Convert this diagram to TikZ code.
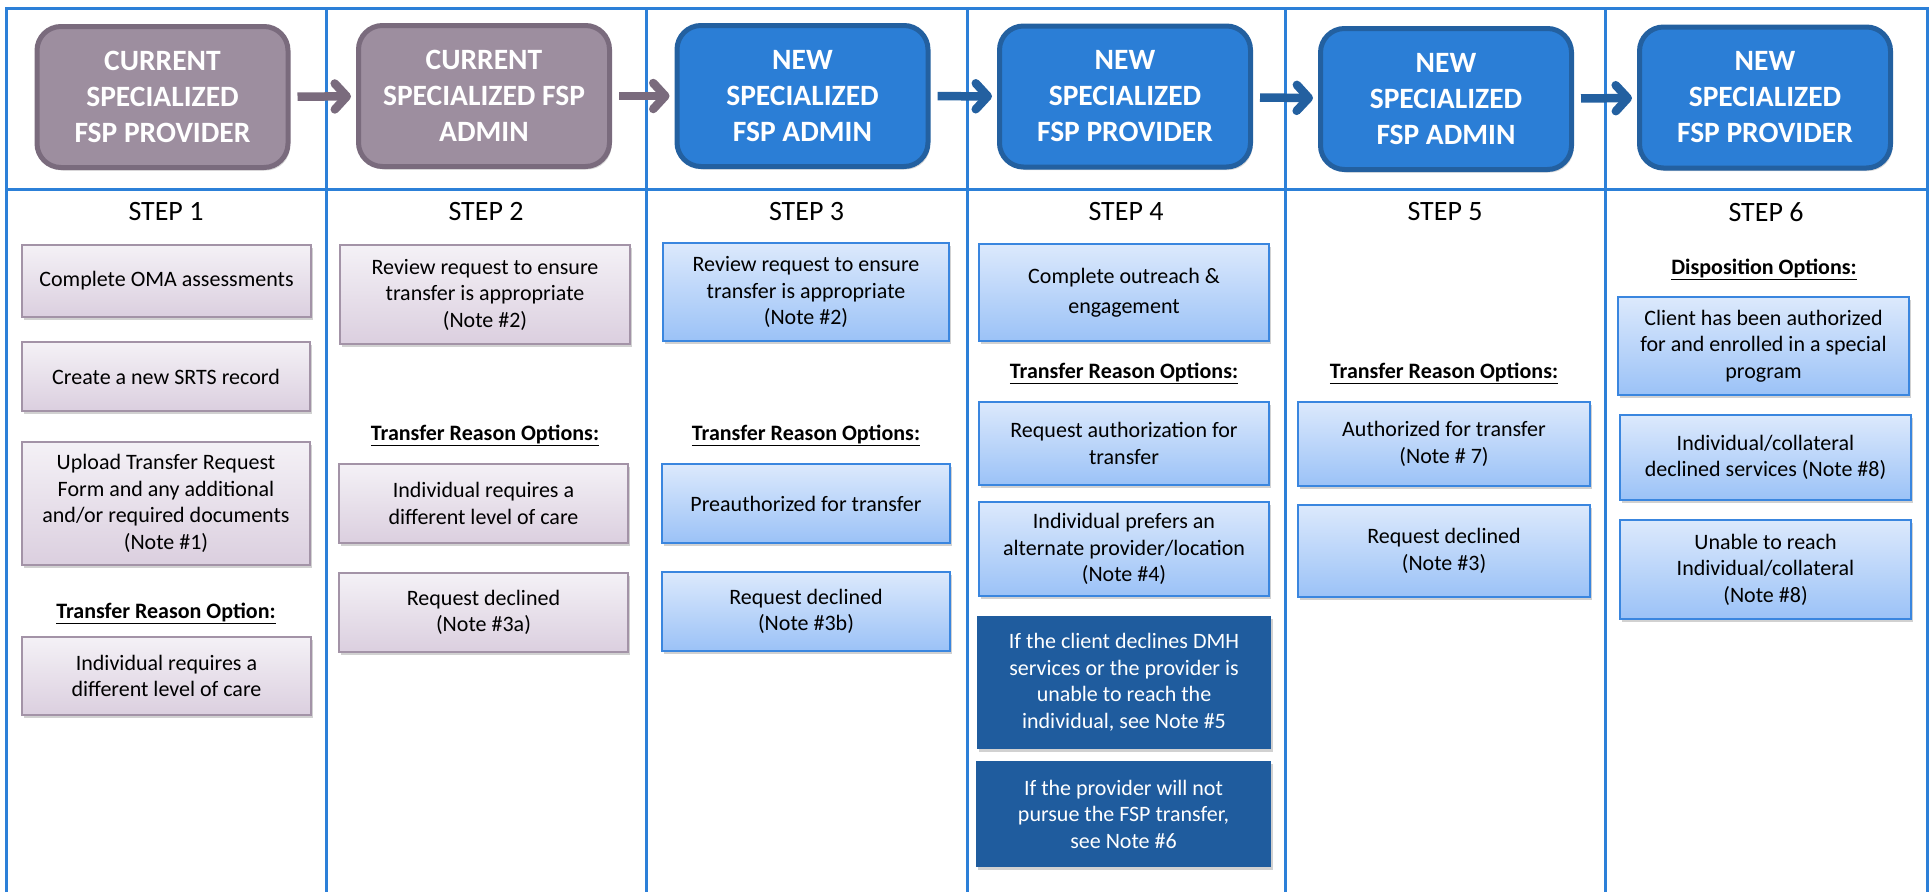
\documentclass[tikz,border=0pt]{standalone}
\usepackage{fontspec}
\setmainfont{Carlito}
\usetikzlibrary{arrows.meta,shadows}
\definecolor{frame}{HTML}{2C80D8}
\definecolor{hpfill}{HTML}{9D8E9F}
\definecolor{hpdraw}{HTML}{7A6B7D}
\definecolor{hbfill}{HTML}{2B7ED6}
\definecolor{hbdraw}{HTML}{2360A0}
\definecolor{pTop}{HTML}{F4F1F6}
\definecolor{pBot}{HTML}{DBCFDF}
\definecolor{pDraw}{HTML}{A393A7}
\definecolor{bTop}{HTML}{DCE9FC}
\definecolor{bBot}{HTML}{9BC2F7}
\definecolor{bDraw}{HTML}{3A86DF}
\definecolor{darkbox}{HTML}{1F5C9E}
\tikzset{
 hdr/.style={rounded corners=24pt, line width=5pt, minimum width=251pt, minimum height=141pt,
   align=center, text=white, font=\fontsize{29.5}{36}\selectfont\bfseries, inner sep=0pt,
   drop shadow={shadow xshift=2pt,shadow yshift=-3pt,opacity=0.25,fill=black!60}},
 hp/.style={hdr, fill=hpfill, draw=hpdraw},
 hb/.style={hdr, fill=hbfill, draw=hbdraw},
 body/.style={align=center, inner sep=0pt, font=\fontsize{22}{26.5}\selectfont,
   drop shadow={shadow xshift=2pt,shadow yshift=-3pt,opacity=0.3,fill=black!60}},
 sz/.style 2 args={minimum width=#1pt, minimum height=#2pt},
 pbox/.style={body, top color=pTop, bottom color=pBot, draw=pDraw, line width=2pt},
 bbox/.style={body, top color=bTop, bottom color=bBot, draw=bDraw, line width=2.5pt},
 dbox/.style={body, fill=darkbox, text=white},
 steplbl/.style={font=\fontsize{28}{32}\selectfont},
 optlbl/.style={font=\fontsize{22}{26}\selectfont\bfseries},
 parr/.style={line width=8.5pt, draw=hpdraw, -{Straight Barb[length=12pt,width=26pt,line cap=round,line join=round]}, shorten <=7pt, shorten >=5pt},
 barr/.style={parr, draw=hbdraw},
 gridline/.style={draw=frame, line width=3pt}
}
\begin{document}
\begin{tikzpicture}[x=1pt,y=-1pt]
\useasboundingbox (0,0) rectangle (1931,892);
% frame
\draw[gridline] (6,892) -- (6,8) -- (1927,8) -- (1927,892);
\draw[gridline] (6,189) -- (1927,189);
\foreach \x in {326,646,967,1285,1605} \draw[gridline] (\x,8) -- (\x,892);
% headers
\node[hp] (h1) at (162.5,97) {CURRENT\\SPECIALIZED\\FSP PROVIDER};
\node[hp] (h2) at (484,96) {CURRENT\\SPECIALIZED FSP\\ADMIN};
\node[hb] (h3) at (802.5,96) {NEW\\SPECIALIZED\\FSP ADMIN};
\node[hb] (h4) at (1125,96.5) {NEW\\SPECIALIZED\\FSP PROVIDER};
\node[hb] (h5) at (1446,99) {NEW\\SPECIALIZED\\FSP ADMIN};
\node[hb] (h6) at (1765,97.5) {NEW\\SPECIALIZED\\FSP PROVIDER};
\draw[parr] (h1) -- (h2);
\draw[parr] (h2) -- (h3);
\draw[barr] (h3) -- (h4);
\draw[barr] (h4) -- (h5);
\draw[barr] (h5) -- (h6);
% step labels
\node[steplbl] (s1) at (166,212) {STEP 1};
\node[steplbl] (s2) at (486,212) {STEP 2};
\node[steplbl] (s3) at (806.5,212) {STEP 3};
\node[steplbl] (s4) at (1126,212) {STEP 4};
\node[steplbl] (s5) at (1445,212) {STEP 5};
\node[steplbl] (s6) at (1766,212) {STEP 6};
% column 1
\node[pbox, sz={289}{72}] (b1a) at (166.5,281) {Complete OMA assessments};
\node[pbox, sz={288}{69}] (b1b) at (166,376.5) {Create a new SRTS record};
\node[pbox, sz={288}{123}] (b1c) at (166,503.5) {Upload Transfer Request\\Form and any additional\\and/or required documents\\(Note \#1)};
\node[optlbl] (o1) at (166,613) {\underline{Transfer Reason Option:}};
\node[pbox, sz={289}{78}] (b1d) at (166.5,676) {Individual requires a\\different level of care};
% column 2
\node[pbox, sz={290}{99}] (b2a) at (485,294.5) {Review request to ensure\\transfer is appropriate\\(Note \#2)};
\node[optlbl] (o2) at (485,435) {\underline{Transfer Reason Options:}};
\node[pbox, sz={289}{79}] (b2b) at (483.5,503.5) {Individual requires a\\different level of care};
\node[pbox, sz={289}{79}] (b2c) at (483.5,612.5) {Request declined\\(Note \#3a)};
% column 3
\node[bbox, sz={286}{98}] (b3a) at (806,292) {Review request to ensure\\transfer is appropriate\\(Note \#2)};
\node[optlbl] (o3) at (806,435) {\underline{Transfer Reason Options:}};
\node[bbox, sz={288}{79}] (b3b) at (806,503.5) {Preauthorized for transfer};
\node[bbox, sz={288}{79}] (b3c) at (806,611.5) {Request declined\\(Note \#3b)};
% column 4
\node[bbox, sz={290}{97}, font=\fontsize{22}{30}\selectfont] (b4a) at (1124,292.5) {Complete outreach \&\\engagement};
\node[optlbl] (o4) at (1124,373) {\underline{Transfer Reason Options:}};
\node[bbox, sz={290}{83}] (b4b) at (1124,443.5) {Request authorization for\\transfer};
\node[bbox, sz={290}{94}] (b4c) at (1124,549) {Individual prefers an\\alternate provider/location\\(Note \#4)};
\node[dbox, sz={294}{133}] (b4d) at (1124,682.5) {If the client declines DMH\\services or the provider is\\unable to reach the\\individual, see Note \#5};
\node[dbox, sz={295}{106}] (b4e) at (1123.5,814) {If the provider will not\\pursue the FSP transfer,\\see Note \#6};
% column 5
\node[optlbl] (o5) at (1444,373) {\underline{Transfer Reason Options:}};
\node[bbox, sz={292}{84}] (b5a) at (1444,444) {Authorized for transfer\\(Note \# 7)};
\node[bbox, sz={292}{92}] (b5b) at (1444,551) {Request declined\\(Note \#3)};
% column 6
\node[optlbl] (o6) at (1764,269) {\underline{Disposition Options:}};
\node[bbox, sz={291}{98}] (b6a) at (1763.5,346) {Client has been authorized\\for and enrolled in a special\\program};
\node[bbox, sz={291}{85}] (b6b) at (1765.5,457.5) {Individual/collateral\\declined services (Note \#8)};
\node[bbox, sz={291}{99}] (b6c) at (1765.5,569.5) {Unable to reach\\Individual/collateral\\(Note \#8)};
\end{tikzpicture}
\end{document}
